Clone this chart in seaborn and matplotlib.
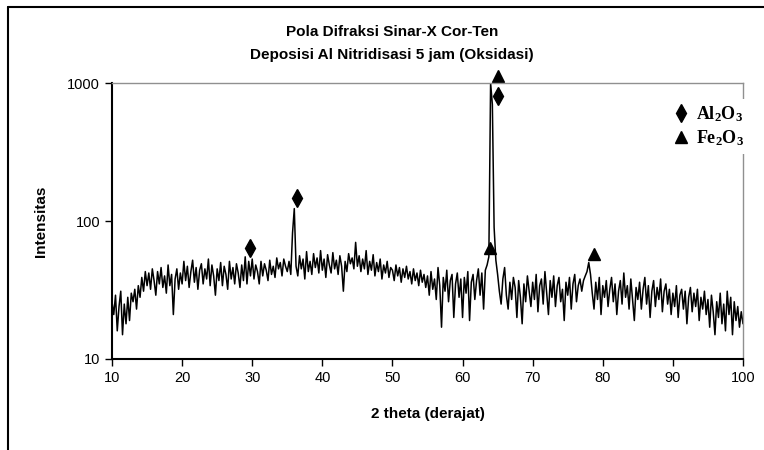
import numpy as np
import matplotlib
matplotlib.use("Agg")
import matplotlib.pyplot as plt
from matplotlib.lines import Line2D
from matplotlib.ticker import FixedLocator, FixedFormatter, NullLocator
import seaborn as sns

# XRD scan, 2 theta from 10 to 100 deg in 0.25 deg steps
intensity = [
    26, 21, 29, 16, 24, 31, 15, 25, 18, 28, 19, 30, 26, 32, 23, 34, 28, 39, 31, 43,
    34, 42, 32, 45, 37, 29, 43, 35, 46, 33, 40, 30, 48, 34, 41, 21, 38, 45, 32, 42,
    35, 51, 37, 47, 33, 43, 52, 36, 46, 32, 44, 49, 35, 45, 38, 53, 34, 48, 40, 29,
    45, 37, 50, 34, 47, 41, 32, 51, 38, 46, 35, 49, 42, 33, 48, 37, 55, 35, 51, 40,
    53, 38, 48, 43, 35, 51, 40, 49, 44, 37, 52, 41, 47, 39, 54, 45, 50, 40, 53, 47,
    43, 51, 41, 82, 123, 47, 40, 56, 45, 53, 38, 60, 43, 51, 41, 58, 46, 54, 42, 61,
    44, 53, 39, 57, 48, 42, 59, 45, 52, 41, 56, 47, 31, 51, 43, 58, 49, 54, 45, 70,
    47, 56, 43, 53, 45, 61, 41, 51, 44, 57, 40, 50, 43, 53, 38, 48, 42, 51, 39, 46,
    44, 37, 48, 40, 46, 36, 45, 39, 47, 38, 43, 35, 45, 37, 42, 34, 44, 36, 41, 33,
    40, 29, 43, 32, 38, 27, 46, 34, 17, 39, 31, 44, 26, 37, 41, 20, 35, 42, 28, 38,
    20, 39, 30, 43, 19, 36, 41, 27, 37, 45, 29, 42, 23, 44, 48, 55, 1000, 700, 90, 52,
    41, 31, 25, 38, 46, 29, 23, 36, 27, 39, 33, 20, 37, 28, 18, 35, 26, 40, 31, 24,
    36, 27, 41, 22, 34, 38, 25, 43, 30, 21, 37, 28, 40, 24, 34, 39, 26, 32, 19, 36,
    29, 39, 23, 35, 41, 26, 34, 38, 31, 37, 40, 43, 50, 41, 30, 23, 36, 27, 39, 21,
    34, 28, 37, 24, 32, 39, 26, 35, 21, 31, 37, 25, 42, 28, 34, 23, 38, 27, 19, 33,
    27, 36, 23, 32, 39, 25, 34, 20, 31, 37, 24, 33, 27, 38, 22, 31, 35, 25, 32, 21,
    30, 24, 34, 20, 29, 32, 23, 31, 18, 28, 33, 22, 30, 24, 32, 19, 28, 23, 31, 21,
    27, 17, 29, 22, 15, 26, 20, 30, 18, 25, 16, 31, 21, 28, 15, 26, 19, 24, 17, 22,
    18,
]
two_theta = np.linspace(10, 100, len(intensity))

# peak markers
al2o3_x = [29.7, 36.4, 65.0]
al2o3_y = [64, 146, 800]
fe2o3_x = [63.9, 65.0, 78.7]
fe2o3_y = [64, 1120, 58]

y_ticks = [10, 100, 1000]
x_ticks = list(range(10, 101, 10))

sns.set_style("white")
plt.rcParams["font.family"] = ["Liberation Sans", "DejaVu Sans"]
plt.rcParams["text.color"] = "black"
plt.rcParams["axes.labelcolor"] = "black"
plt.rcParams["mathtext.fontset"] = "custom"
plt.rcParams["mathtext.rm"] = "Liberation Serif:bold"
plt.rcParams["mathtext.default"] = "rm"

fig = plt.figure(figsize=(7.64, 4.5), dpi=100)
ax = fig.add_axes([112 / 764, 1 - 359 / 450, 631 / 764, 276 / 450])

sns.lineplot(x=two_theta, y=intensity, ax=ax, color="black", linewidth=1.1,
             estimator=None, sort=False)
ax.plot(al2o3_x, al2o3_y, ls="none", marker="d", ms=9, color="black", clip_on=False)
ax.plot(fe2o3_x, fe2o3_y, ls="none", marker="^", ms=8, color="black", clip_on=False)

ax.set_yscale("log")
ax.set_xlim(10, 100)
ax.set_ylim(10, 1000)
ax.yaxis.set_major_locator(FixedLocator(y_ticks))
ax.yaxis.set_major_formatter(FixedFormatter([str(v) for v in y_ticks]))
ax.yaxis.set_minor_locator(NullLocator())
ax.set_xticks(x_ticks)
ax.tick_params(axis="both", direction="out", length=5, width=1, labelsize=10.5,
               colors="black", bottom=True, left=True)

for s in ["left", "bottom"]:
    ax.spines[s].set_color("black")
    ax.spines[s].set_linewidth(1.5)
for s in ["top", "right"]:
    ax.spines[s].set_color("#909090")
    ax.spines[s].set_linewidth(1.0)

ax.set_xlabel("2 theta (derajat)", fontsize=11, fontweight="bold", labelpad=16)
ax.set_ylabel("Intensitas", fontsize=11, fontweight="bold", labelpad=14)

fig.text(392 / 764, 1 - 32 / 450, "Pola Difraksi Sinar-X Cor-Ten", ha="center",
         va="center", fontsize=11, fontweight="bold")
fig.text(392 / 764, 1 - 55 / 450, "Deposisi Al Nitridisasi 5 jam (Oksidasi)",
         ha="center", va="center", fontsize=11, fontweight="bold")

handles = [Line2D([], [], ls="none", marker="d", ms=9, color="black"),
           Line2D([], [], ls="none", marker="^", ms=8, color="black")]
leg = ax.legend(handles, ["Al$_2$O$_3$", "Fe$_2$O$_3$"], loc="upper right",
                bbox_to_anchor=(1.024, 0.975), frameon=True, facecolor="white",
                edgecolor="none", framealpha=1, fancybox=False, handlelength=0.8,
                handletextpad=0.4, labelspacing=0.25, borderpad=0.3,
                prop={"family": "Liberation Serif", "weight": "bold", "size": 13})
leg.set_zorder(10)

# outer chart border (left and top edges visible)
fig.add_artist(Line2D([8 / 764, 8 / 764], [0, 1 - 7 / 450], color="black", lw=1.5,
                      transform=fig.transFigure))
fig.add_artist(Line2D([8 / 764, 1], [1 - 7 / 450, 1 - 7 / 450], color="black", lw=1.5,
                      transform=fig.transFigure))

fig.savefig("out.png", dpi=100)
